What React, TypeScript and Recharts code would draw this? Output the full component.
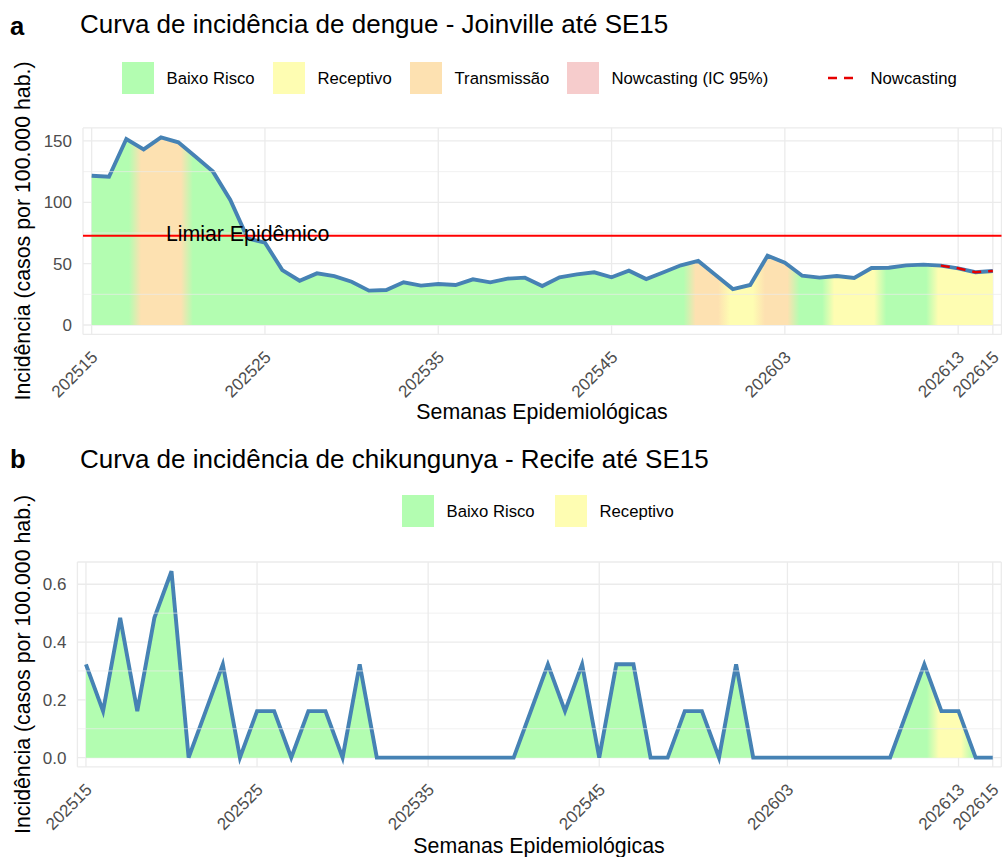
import React from 'react';
import { ComposedChart, Area, Line, XAxis, YAxis, CartesianGrid, ReferenceLine } from 'recharts';

const FONT = '"Liberation Sans", Arial, Helvetica, sans-serif';

// ---------- Panel a: dengue, Joinville ----------
const weeksA = [
  202515, 202516, 202517, 202518, 202519, 202520, 202521, 202522, 202523, 202524,
  202525, 202526, 202527, 202528, 202529, 202530, 202531, 202532, 202533, 202534,
  202535, 202536, 202537, 202538, 202539, 202540, 202541, 202542, 202543, 202544,
  202545, 202546, 202547, 202548, 202549, 202550, 202551, 202552,
  202601, 202602, 202603, 202604, 202605, 202606, 202607, 202608, 202609, 202610,
  202611, 202612, 202613, 202614, 202615,
];
const dengueIncidence = [
  121.7, 120.8, 151.6, 143.2, 153.0, 148.9, 137.2, 125.0, 101.9, 70.7,
  67.1, 44.8, 36.1, 42.1, 39.9, 35.3, 28.0, 28.5, 34.8, 32.1,
  33.4, 32.6, 37.2, 34.8, 37.8, 38.6, 31.8, 38.9, 41.3, 43.0,
  38.9, 44.3, 37.5, 43.0, 48.7, 52.2, 40.8, 29.3, 32.6, 56.5,
  50.8, 40.2, 38.6, 39.9, 38.3, 46.5, 46.7, 48.6, 49.2, 48.4,
  46.2, 43.0, 44.0,
];
// B = Baixo Risco, R = Receptivo, T = Transmissão
const dengueRisk = [
  'B', 'B', 'B', 'T', 'T', 'T', 'B', 'B', 'B', 'B',
  'B', 'B', 'B', 'B', 'B', 'B', 'B', 'B', 'B', 'B',
  'B', 'B', 'B', 'B', 'B', 'B', 'B', 'B', 'B', 'B',
  'B', 'B', 'B', 'B', 'B', 'T', 'T', 'R', 'R', 'T',
  'T', 'B', 'B', 'R', 'R', 'R', 'B', 'B', 'B', 'R',
  'R', 'R', 'R',
];
const nowcastWeeks = [202612, 202613, 202614, 202615];
const nowcastIncidence = [48.4, 46.2, 43.0, 44.0];
const epidemicThreshold = 72.8;
const xTickWeeksA = [202515, 202525, 202535, 202545, 202603, 202613, 202615];
const yTicksA = [0, 50, 100, 150];
const yMinorA = [25, 75, 125];

// ---------- Panel b: chikungunya, Recife ----------
const weeksB = [
  202515, 202516, 202517, 202518, 202519, 202520, 202521, 202522, 202523, 202524,
  202525, 202526, 202527, 202528, 202529, 202530, 202531, 202532, 202533, 202534,
  202535, 202536, 202537, 202538, 202539, 202540, 202541, 202542, 202543, 202544,
  202545, 202546, 202547, 202548, 202549, 202550, 202551, 202552, 202553,
  202601, 202602, 202603, 202604, 202605, 202606, 202607, 202608, 202609, 202610,
  202611, 202612, 202613, 202614, 202615,
];
const chikIncidence = [
  0.323, 0.161, 0.484, 0.161, 0.484, 0.645, 0, 0.161, 0.323, 0,
  0.161, 0.161, 0, 0.161, 0.161, 0, 0.323, 0, 0, 0,
  0, 0, 0, 0, 0, 0, 0.161, 0.323, 0.161, 0.323,
  0, 0.323, 0.323, 0, 0, 0.161, 0.161, 0, 0.323, 0,
  0, 0, 0, 0, 0, 0, 0, 0, 0.161, 0.323,
  0.161, 0.161, 0, 0,
];
const chikRisk = [
  'B', 'B', 'B', 'B', 'B', 'B', 'B', 'B', 'B', 'B',
  'B', 'B', 'B', 'B', 'B', 'B', 'B', 'B', 'B', 'B',
  'B', 'B', 'B', 'B', 'B', 'B', 'B', 'B', 'B', 'B',
  'B', 'B', 'B', 'B', 'B', 'B', 'B', 'B', 'B', 'B',
  'B', 'B', 'B', 'B', 'B', 'B', 'B', 'B', 'B', 'B',
  'R', 'R', 'B', 'B',
];
const xTickWeeksB = [202515, 202525, 202535, 202545, 202603, 202613, 202615];
const yTicksB = [0, 0.2, 0.4, 0.6];
const yMinorB = [0.1, 0.3, 0.5];

// ---------- styling ----------
const RISK_COLORS: Record<string, string> = {
  B: '#b3fdb1',
  R: '#fefdb2',
  T: '#fde1b1',
};
const IC_COLOR = '#f6cccc';
const LINE_COLOR = '#4682b4';
const GRID = '#ebebeb';
const TICK_COLOR = '#4d4d4d';

const dataA = weeksA.map((w, i) => {
  const k = nowcastWeeks.indexOf(w);
  return { idx: i, week: w, value: dengueIncidence[i], nowcast: k >= 0 ? nowcastIncidence[k] : null };
});
const dataB = weeksB.map((w, i) => ({ idx: i, week: w, value: chikIncidence[i] }));

function buildStops(risk: string[]) {
  const n = risk.length;
  const stops: { o: number; c: string }[] = [];
  risk.forEach((r, i) => {
    const c = RISK_COLORS[r];
    stops.push({ o: Math.max(0, (i - 0.15) / (n - 1)), c });
    stops.push({ o: Math.min(1, (i + 0.15) / (n - 1)), c });
  });
  return stops;
}

const makeXTick = (labels: number[]) => (props: any) => {
  const { x, y, payload } = props;
  return (
    <text
      transform={`translate(${x + 7},${y + 24}) rotate(-45)`}
      textAnchor="end"
      fontSize={17}
      fill={TICK_COLOR}
      fontFamily={FONT}
    >
      {labels[payload.value]}
    </text>
  );
};

const makeYTick = (fmt: (v: number) => string) => (props: any) => {
  const { x, y, payload } = props;
  return (
    <text x={x} y={y} dy="0.36em" textAnchor="end" fontSize={17} fill={TICK_COLOR} fontFamily={FONT}>
      {fmt(payload.value)}
    </text>
  );
};

const thresholdLabelIndex = weeksA.indexOf(202524);

function PanelA() {
  const stops = buildStops(dengueRisk);
  const n = weeksA.length;
  return (
    <ComposedChart
      width={1002}
      height={430}
      data={dataA}
      margin={{ top: 127.9, right: 0.5, bottom: 35.6, left: 0 }}
    >
      <defs>
        <linearGradient id="riskA" x1="0" y1="0" x2="1" y2="0">
          {stops.map((s, i) => (
            <stop key={i} offset={s.o} stopColor={s.c} />
          ))}
        </linearGradient>
      </defs>
      <CartesianGrid stroke={GRID} strokeWidth={1.3} />
      {yMinorA.map((v) => (
        <ReferenceLine key={v} y={v} stroke={GRID} strokeWidth={0.7} />
      ))}
      <XAxis
        dataKey="idx"
        type="number"
        domain={[-0.5, n - 0.5]}
        ticks={xTickWeeksA.map((w) => weeksA.indexOf(w))}
        interval={0}
        height={60}
        axisLine={false}
        tickLine={false}
        tickSize={0}
        tickMargin={0}
        tick={makeXTick(weeksA)}
        allowDataOverflow
      />
      <YAxis
        type="number"
        domain={[-7.65, 160.65]}
        ticks={yTicksA}
        width={83}
        axisLine={false}
        tickLine={false}
        tickSize={0}
        tickMargin={11}
        tick={makeYTick((v) => String(v))}
        allowDataOverflow
      />
      <Area
        dataKey="value"
        type="linear"
        baseValue={0}
        fill="url(#riskA)"
        fillOpacity={1}
        stroke={LINE_COLOR}
        strokeWidth={3.9}
        isAnimationActive={false}
        dot={false}
        activeDot={false}
      />
      <Line
        dataKey="nowcast"
        type="linear"
        stroke="#e60000"
        strokeWidth={2.5}
        strokeDasharray="9 7"
        dot={false}
        activeDot={false}
        isAnimationActive={false}
      />
      <ReferenceLine
        y={epidemicThreshold}
        stroke="#ff0000"
        strokeWidth={2}
        label={(p: any) => {
          const vb = p.viewBox || {};
          const cx = vb.x + ((thresholdLabelIndex + 0.5) / n) * vb.width;
          return (
            <text x={cx} y={vb.y} dy={5.5} textAnchor="middle" fontSize={21.3} fill="#000" fontFamily={FONT}>
              Limiar Epidêmico
            </text>
          );
        }}
      />
    </ComposedChart>
  );
}

function PanelB() {
  const stops = buildStops(chikRisk);
  const n = weeksB.length;
  return (
    <ComposedChart
      width={1002}
      height={417}
      data={dataB}
      margin={{ top: 122, right: 0.7, bottom: 30.1, left: 0 }}
    >
      <defs>
        <linearGradient id="riskB" x1="0" y1="0" x2="1" y2="0">
          {stops.map((s, i) => (
            <stop key={i} offset={s.o} stopColor={s.c} />
          ))}
        </linearGradient>
      </defs>
      <CartesianGrid stroke={GRID} strokeWidth={1.3} />
      {yMinorB.map((v) => (
        <ReferenceLine key={v} y={v} stroke={GRID} strokeWidth={0.7} />
      ))}
      <XAxis
        dataKey="idx"
        type="number"
        domain={[-0.5, n - 0.5]}
        ticks={xTickWeeksB.map((w) => weeksB.indexOf(w))}
        interval={0}
        height={60}
        axisLine={false}
        tickLine={false}
        tickSize={0}
        tickMargin={0}
        tick={makeXTick(weeksB)}
        allowDataOverflow
      />
      <YAxis
        type="number"
        domain={[-0.032, 0.677]}
        ticks={yTicksB}
        width={77.4}
        axisLine={false}
        tickLine={false}
        tickSize={0}
        tickMargin={11}
        tick={makeYTick((v) => v.toFixed(1))}
        allowDataOverflow
      />
      <Area
        dataKey="value"
        type="linear"
        baseValue={0}
        fill="url(#riskB)"
        fillOpacity={1}
        stroke={LINE_COLOR}
        strokeWidth={3.9}
        isAnimationActive={false}
        dot={false}
        activeDot={false}
      />
    </ComposedChart>
  );
}

const legendA = [
  { label: 'Baixo Risco', color: RISK_COLORS.B, kind: 'box' },
  { label: 'Receptivo', color: RISK_COLORS.R, kind: 'box' },
  { label: 'Transmissão', color: RISK_COLORS.T, kind: 'box' },
  { label: 'Nowcasting (IC 95%)', color: IC_COLOR, kind: 'box' },
  { label: 'Nowcasting', color: '#e60000', kind: 'dash' },
];
const legendB = [
  { label: 'Baixo Risco', color: RISK_COLORS.B, kind: 'box' },
  { label: 'Receptivo', color: RISK_COLORS.R, kind: 'box' },
];
const legendAX = [122, 273, 410, 567, 826];
const legendBX = [402, 555];

function LegendRow({ items, xs, cy }: { items: typeof legendA; xs: number[]; cy: number }) {
  return (
    <g>
      {items.map((it, i) => (
        <g key={it.label}>
          {it.kind === 'box' ? (
            <rect x={xs[i]} y={cy - 16} width={32} height={32} fill={it.color} />
          ) : (
            <line x1={xs[i] + 2} x2={xs[i] + 30} y1={cy} y2={cy} stroke={it.color} strokeWidth={2.7} strokeDasharray="9 7" />
          )}
          <text x={xs[i] + 44.5} y={cy} dy="0.35em" fontSize={16.7} fill="#000" fontFamily={FONT}>
            {it.label}
          </text>
        </g>
      ))}
    </g>
  );
}

export default function App() {
  return (
    <div style={{ position: 'absolute', left: 0, top: 0, width: 1002, height: 857, background: '#fff' }}>
      <div style={{ position: 'absolute', left: 0, top: 0 }}>
        <PanelA />
      </div>
      <div style={{ position: 'absolute', left: 0, top: 440 }}>
        <PanelB />
      </div>
      <svg
        width={1002}
        height={857}
        style={{ position: 'absolute', left: 0, top: 0, pointerEvents: 'none' }}
        fontFamily={FONT}
      >
        <text x={10} y={35} fontSize={25.6} fontWeight="bold">a</text>
        <text x={80} y={33} fontSize={26}>Curva de incidência de dengue - Joinville até SE15</text>
        <LegendRow items={legendA} xs={legendAX} cy={78} />
        <text x={542} y={418.5} fontSize={21.33} textAnchor="middle">Semanas Epidemiológicas</text>
        <text transform="translate(30,231) rotate(-90)" fontSize={21.33} textAnchor="middle">
          Incidência (casos por 100.000 hab.)
        </text>

        <text x={10} y={468} fontSize={25.6} fontWeight="bold">b</text>
        <text x={80} y={468} fontSize={26}>Curva de incidência de chikungunya - Recife até SE15</text>
        <LegendRow items={legendB} xs={legendBX} cy={511} />
        <text x={539} y={852.5} fontSize={21.33} textAnchor="middle">Semanas Epidemiológicas</text>
        <text transform="translate(30,664.5) rotate(-90)" fontSize={21.33} textAnchor="middle">
          Incidência (casos por 100.000 hab.)
        </text>
      </svg>
    </div>
  );
}
